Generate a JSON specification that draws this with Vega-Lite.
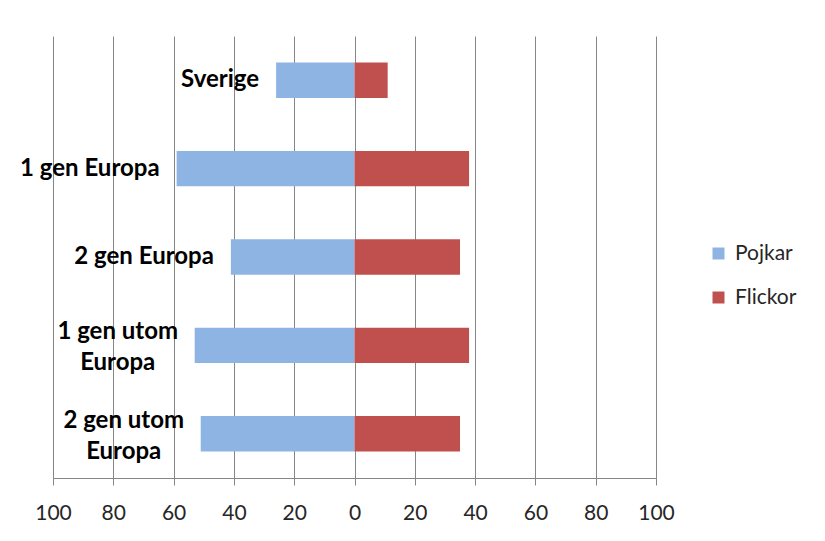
{
  "$schema": "https://vega.github.io/schema/vega-lite/v6.json",
  "width": 603,
  "height": 442,
  "autosize": "none",
  "padding": {"left": 53, "top": 36, "right": 169, "bottom": 63},
  "background": "white",
  "config": {"view": {"stroke": null}, "font": "Lato"},
  "data": {
    "values": [
      {"grupp": "Sverige", "kon": "Pojkar", "andel": -26},
      {"grupp": "Sverige", "kon": "Flickor", "andel": 11},
      {"grupp": "1 gen Europa", "kon": "Pojkar", "andel": -59},
      {"grupp": "1 gen Europa", "kon": "Flickor", "andel": 38},
      {"grupp": "2 gen Europa", "kon": "Pojkar", "andel": -41},
      {"grupp": "2 gen Europa", "kon": "Flickor", "andel": 35},
      {"grupp": "1 gen utom\nEuropa", "kon": "Pojkar", "andel": -53},
      {"grupp": "1 gen utom\nEuropa", "kon": "Flickor", "andel": 38},
      {"grupp": "2 gen utom\nEuropa", "kon": "Pojkar", "andel": -51},
      {"grupp": "2 gen utom\nEuropa", "kon": "Flickor", "andel": 35}
    ]
  },
  "encoding": {
    "y": {
      "field": "grupp",
      "type": "nominal",
      "sort": ["Sverige", "1 gen Europa", "2 gen Europa", "1 gen utom\nEuropa", "2 gen utom\nEuropa"],
      "axis": null,
      "scale": {"paddingInner": 0.6, "paddingOuter": 0.3}
    }
  },
  "layer": [
    {
      "mark": {"type": "bar"},
      "encoding": {
        "x": {
          "field": "andel",
          "type": "quantitative",
          "scale": {"domain": [-100, 100], "nice": false},
          "axis": {
            "values": [-100, -80, -60, -40, -20, 0, 20, 40, 60, 80, 100],
            "labelExpr": "'' + abs(datum.value)",
            "grid": true,
            "gridColor": "#868686",
            "gridOpacity": 1,
            "domainColor": "#868686",
            "tickColor": "#868686",
            "tickSize": 7,
            "labelFont": "Lato",
            "labelFontSize": 21,
            "labelColor": "#262626",
            "labelPadding": 17,
            "labelFlush": false,
            "title": null
          }
        },
        "color": {
          "field": "kon",
          "type": "nominal",
          "scale": {"domain": ["Pojkar", "Flickor"], "range": ["#8EB4E3", "#C0504D"]},
          "legend": {
            "title": null,
            "orient": "none",
            "legendX": 655,
            "legendY": 207,
            "symbolType": "square",
            "symbolSize": 144,
            "symbolStrokeWidth": 0,
            "labelFont": "Lato",
            "labelFontSize": 21,
            "labelColor": "#262626",
            "labelOffset": 6,
            "rowPadding": 22
          }
        }
      }
    },
    {
      "transform": [{"filter": "datum.kon == 'Pojkar' && indexof(datum.grupp, 'utom') < 0"}],
      "mark": {"type": "text", "align": "right", "baseline": "middle", "dx": -17, "fontWeight": "bold", "fontSize": 24, "color": "#000000"},
      "encoding": {
        "x": {"field": "andel", "type": "quantitative"},
        "text": {"field": "grupp"}
      }
    },
    {
      "transform": [{"filter": "datum.kon == 'Pojkar' && indexof(datum.grupp, 'utom') >= 0"}],
      "mark": {"type": "text", "align": "center", "baseline": "middle", "dx": -77, "dy": -13, "lineBreak": "\n", "lineHeight": 31, "fontWeight": "bold", "fontSize": 24, "color": "#000000"},
      "encoding": {
        "x": {"field": "andel", "type": "quantitative"},
        "text": {"field": "grupp"}
      }
    }
  ]
}
